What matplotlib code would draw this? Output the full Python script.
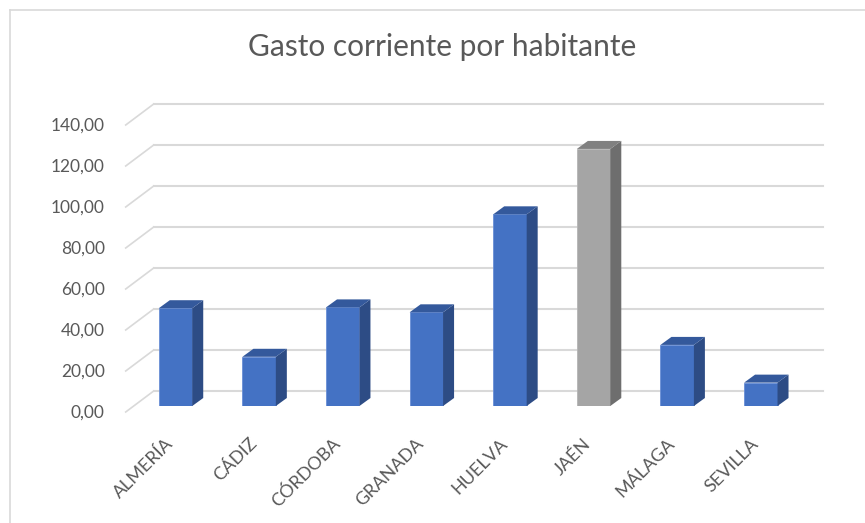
import matplotlib
matplotlib.use('Agg')
import matplotlib.pyplot as plt
from matplotlib.transforms import ScaledTranslation
from matplotlib.patches import Polygon
from matplotlib.lines import Line2D

categories = ['ALMERÍA', 'CÁDIZ', 'CÓRDOBA', 'GRANADA', 'HUELVA', 'JAÉN', 'MÁLAGA', 'SEVILLA']
values = [47.7, 24.0, 48.1, 45.7, 93.5, 125.4, 29.8, 11.4]
highlight = 'JAÉN'
yticks = [0, 20, 40, 60, 80, 100, 120, 140]
ytick_labels = ['0,00', '20,00', '40,00', '60,00', '80,00', '100,00', '120,00', '140,00']
title = 'Gasto corriente por habitante'

plt.rcParams['font.family'] = ['Lato', 'DejaVu Sans']
TXT = '#595959'
GRID = '#D9D9D9'
BLUE = ('#4472C4', '#2D4C85', '#34599C')
GRAY = ('#A5A5A5', '#6E6E6E', '#808080')

W, H = 865, 523
fig = plt.figure(figsize=(W / 100, H / 100), dpi=100)
ax = fig.add_axes([133.7 / W, 117 / H, 668.9 / W, 287 / H])
ax.set_xlim(-0.5, len(categories) - 0.5)
ax.set_ylim(0, 140)
ax.axis('off')

# chart border (left and top visible)
fig.add_artist(Line2D([9.5 / W, 9.5 / W], [0, 1 - 10 / H], transform=fig.transFigure, color=GRID, lw=1.2))
fig.add_artist(Line2D([9.5 / W, 1], [1 - 10 / H, 1 - 10 / H], transform=fig.transFigure, color=GRID, lw=1.2))


def off(dx, dy):
    return ax.transData + ScaledTranslation(dx / 100, dy / 100, fig.dpi_scale_trans)


def fig_pt(x, y, dx=0.0, dy=0.0):
    px, py = ax.transData.transform((x, y))
    return ((px + dx) / W, (py + dy) / H)


BACK = (20, 15)
FRONT = (-8, -6)
DEPTH = (11, 8)
x0, x1 = ax.get_xlim()

# back wall gridlines + left diagonal lines
for t, lab in zip(yticks, ytick_labels):
    a = fig_pt(x0, t, *BACK)
    b = fig_pt(x1, t, *BACK)
    ax.add_line(Line2D([a[0], b[0]], [a[1], b[1]], transform=fig.transFigure, color=GRID, lw=1.5,
                       zorder=1, clip_on=False))
    c = fig_pt(x0, t, *FRONT)
    ax.add_line(Line2D([c[0], a[0]], [c[1], a[1]], transform=fig.transFigure, color=GRID, lw=1.2,
                       zorder=1, clip_on=False))
    ax.text(x0, t, lab, transform=off(-29, -7), ha='right', va='center', fontsize=12.5, color=TXT)

# bars
w = 0.4
for i, (cat, v) in enumerate(zip(categories, values)):
    front, side, top = GRAY if cat == highlight else BLUE
    ax.bar(i, v, width=w, color=front, zorder=3, edgecolor='#6A8FD6' if cat != highlight else '#B5B5B5', lw=0.6)
    sp = [fig_pt(i + w / 2, 0), fig_pt(i + w / 2, v), fig_pt(i + w / 2, v, *DEPTH), fig_pt(i + w / 2, 0, *DEPTH)]
    ax.add_patch(Polygon(sp, closed=True, transform=fig.transFigure, facecolor=side, edgecolor='none',
                         zorder=4, clip_on=False))
    tp = [fig_pt(i - w / 2, v), fig_pt(i + w / 2, v), fig_pt(i + w / 2, v, *DEPTH), fig_pt(i - w / 2, v, *DEPTH)]
    ax.add_patch(Polygon(tp, closed=True, transform=fig.transFigure, facecolor=top, edgecolor='none',
                         zorder=4, clip_on=False))
    ax.text(i, 0, cat, transform=off(-5, -35), rotation=45, rotation_mode='anchor', ha='right', va='center',
            fontsize=13, color=TXT)

fig.text(442 / W, 1 - 47 / H, title, ha='center', va='center', fontsize=21.5, color=TXT)

fig.savefig('out.png', dpi=100, facecolor='white')
